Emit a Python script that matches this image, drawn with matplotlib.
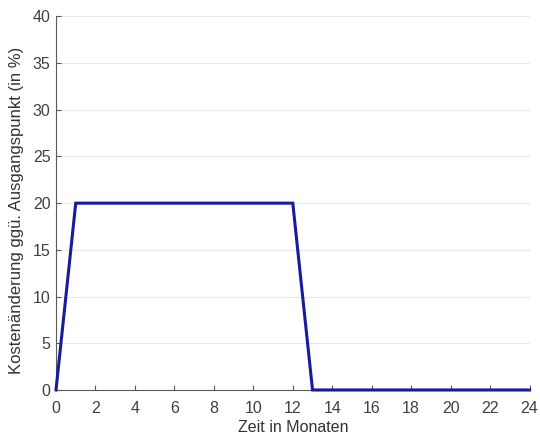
import matplotlib
matplotlib.use("Agg")
import matplotlib.pyplot as plt

months = [0, 1, 12, 13, 24]
cost_change = [0, 20, 20, 0, 0]
xticks = list(range(0, 25, 2))
yticks = list(range(0, 41, 5))

plt.rcParams['font.family'] = ['Liberation Sans', 'DejaVu Sans']

fig = plt.figure(figsize=(5.4, 4.37), dpi=100)
ax = fig.add_axes([0.1037, 0.1076, 0.877, 0.855])
ax.plot(months, cost_change, color='#1a1a9e', linewidth=2.2, solid_joinstyle='miter', clip_on=False, zorder=3)
ax.set_xlim(0, 24)
ax.set_ylim(0, 40)
ax.set_xticks(xticks)
ax.set_yticks(yticks)
ax.yaxis.grid(True, color='#e6e6e6', linewidth=0.8)
ax.set_axisbelow(True)
for s in ['top', 'right']:
    ax.spines[s].set_visible(False)
for s in ['left', 'bottom']:
    ax.spines[s].set_color('#5a5a5a')
    ax.spines[s].set_linewidth(0.8)
ax.tick_params(direction='in', length=3.5, colors='#5a5a5a', labelcolor='#404040', labelsize=11.5, width=0.8)
ax.tick_params(axis='x', pad=8)
ax.tick_params(axis='y', pad=4)
ax.set_xlabel('Zeit in Monaten', fontsize=11.5, color='#333333', labelpad=3)
ax.set_ylabel('Kostenänderung ggü. Ausgangspunkt (in %)', fontsize=12, color='#333333')
ax.yaxis.set_label_coords(-0.068, 0.481)
fig.savefig('out.png', dpi=100)
